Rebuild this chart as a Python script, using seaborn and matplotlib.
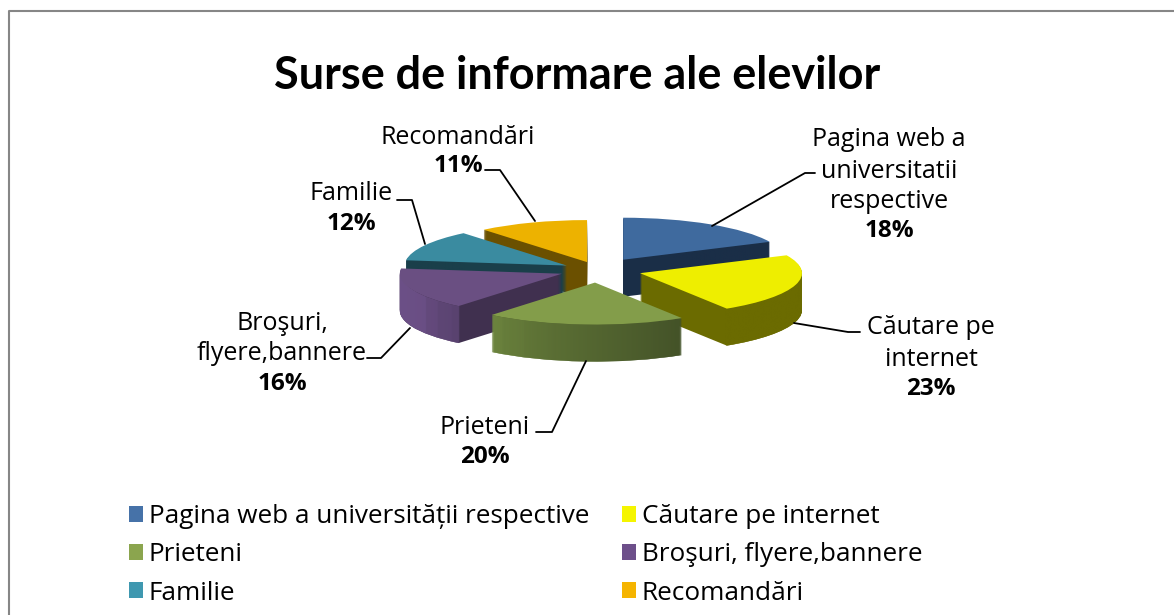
import matplotlib
matplotlib.use("Agg")
import matplotlib.pyplot as plt
from matplotlib.colors import LinearSegmentedColormap
from matplotlib.patches import Patch
from matplotlib.path import Path
import numpy as np
import seaborn as sns

categorii = ["Pagina web a universității respective", "Căutare pe internet", "Prieteni",
             "Broşuri, flyere,bannere", "Familie", "Recomandări"]
etichete = ["Pagina web a\nuniversitatii\nrespective", "Căutare pe\ninternet", "Prieteni",
            "Broşuri,\nflyere,bannere", "Familie", "Recomandări"]
procente = [18, 23, 20, 16, 12, 11]

culori_legenda = ["#4672A8", "#F5F500", "#8BA54E", "#6D4F8A", "#3F98B0", "#F5B400"]
culori_sus = ["#3F6A9E", "#EEEE00", "#839D4A", "#6A4F82", "#3A8BA0", "#EDB200"]
culori_perete = ["#1A2E47", "#6B6B00", "#4A5A2A", "#40304F", "#1A3F4A", "#6B5000"]
margine_stanga = ["#1A2E47", "#6B6B00", "#7F9B49", "#6C5087", "#1A3F4A", "#6B5000"]
margine_dreapta = ["#1A2E47", "#6B6B00", "#3F4D27", "#5E4675", "#1A3F4A", "#6B5000"]
explozie = [0.29, 0.27, 0.30, 0.24, 0.22, 0.20]
ordine = [5, 0, 4, 3, 1, 2]  # din spate in fata

L, H = 1174, 615
cx, cy = 598, 270
rx, ry = 162, 42
adancime = 37

sns.set_theme(style="white")
plt.rcParams["font.family"] = ["Open Sans", "DejaVu Sans"]

fig = plt.figure(figsize=(L / 100, H / 100), dpi=100, facecolor="white")
ax = fig.add_axes([0, 0, 1, 1])


def felie(dy, **kw):
    wedges, _ = ax.pie(procente, startangle=90, counterclock=False, explode=explozie,
                       center=(0, dy), radius=1, **kw)
    return wedges


pasi = np.arange(1, adancime + 1) / ry
margini = [[] for _ in procente]
for dy in pasi:
    for i, w in enumerate(felie(-dy, colors=culori_perete, wedgeprops={"linewidth": 0})):
        w.set_zorder(ordine.index(i) * 10 + 1)
    for i, w in enumerate(felie(-dy, colors=culori_perete, wedgeprops={"linewidth": 0, "width": 0.012})):
        w.set_visible(False)
        margini[i].append(w)

for i, w in enumerate(felie(0, colors=culori_sus, wedgeprops={"linewidth": 0})):
    w.set_zorder(ordine.index(i) * 10 + 3)

# marginea rotunjita are degrade pe orizontala
for i, stack in enumerate(margini):
    vs = [w.get_path() for w in stack]
    cale = Path.make_compound_path(*vs)
    x0, x1 = cale.vertices[:, 0].min(), cale.vertices[:, 0].max()
    y0, y1 = cale.vertices[:, 1].min(), cale.vertices[:, 1].max()
    cmap = LinearSegmentedColormap.from_list("m", [margine_stanga[i], margine_dreapta[i]])
    im = ax.imshow(np.linspace(0, 1, 256)[None, :], cmap=cmap, extent=(x0, x1, y0, y1),
                   aspect="auto", zorder=ordine.index(i) * 10 + 2)
    im.set_clip_path(cale, ax.transData)

ax.set_aspect("auto")
ax.set_xlim(-cx / rx, (L - cx) / rx)
ax.set_ylim(-(H - cy) / ry, cy / ry)
ax.axis("off")

# strat pentru text, in pixeli
over = fig.add_axes([0, 0, 1, 1], facecolor="none")
over.set_xlim(0, L)
over.set_ylim(H, 0)
over.axis("off")

over.plot([8.5, 8.5, L], [H, 10.5, 10.5], color="#868686", lw=1.5, clip_on=False)
over.text(577, 76, "Surse de informare ale elevilor", ha="center", va="center",
          fontsize=32.4, fontweight="bold", color="black", family="Lato")

pozitii = [(889, [140, 171, 201], 231), (931, [328, 359], 389), (485, [428], 457),
           (282, [323, 354], 384), (351, [194], 224), (458, [137], 166)]
lideri = [[(712, 226), (805, 173), (815, 173)], [(794, 323), (848, 332), (860, 332)],
          [(586, 361), (552, 432), (536, 432)], [(410, 328), (381, 358), (367, 358)],
          [(425, 244), (412, 200), (397, 200)], [(535, 221), (500, 170), (485, 170)]]
for nume, p, (x, ys, yp), lin in zip(etichete, procente, pozitii, lideri):
    for rand, y in zip(nume.split("\n"), ys):
        over.text(x, y, rand, ha="center", va="center", fontsize=18, color="black")
    over.text(x, yp, f"{p}%", ha="center", va="center", fontsize=17.5, fontweight="bold", color="black")
    over.plot(*zip(*lin), color="black", lw=1.3)

handles = [Patch(facecolor=c, edgecolor="none", label=n) for c, n in zip(culori_legenda, categorii)]
idx = [0, 2, 4, 1, 3, 5]
over.legend([handles[i] for i in idx], [categorii[i] for i in idx], ncol=2, frameon=False,
            loc="upper left", bbox_to_anchor=(129 / L, 1 - 504 / H), fontsize=18.8,
            handlelength=0.555, handleheight=0.555, handletextpad=0.21, columnspacing=1.25,
            labelspacing=0.51, borderpad=0, borderaxespad=0, labelcolor="black")

fig.savefig("out.png", dpi=100, facecolor="white")
plt.close(fig)
